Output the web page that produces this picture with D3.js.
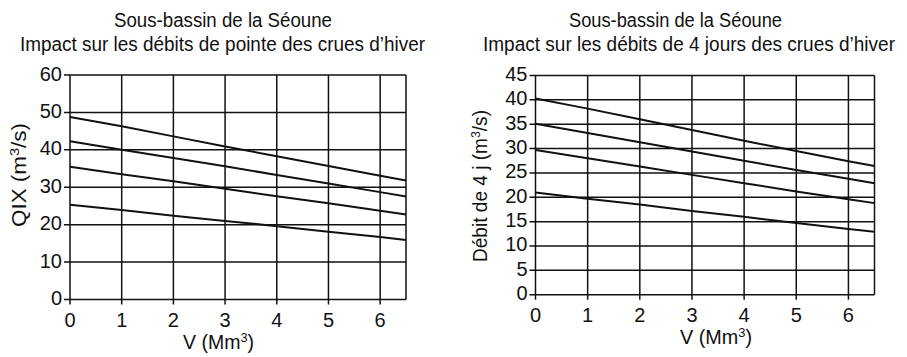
<!DOCTYPE html>
<html>
<head>
<meta charset="utf-8">
<script src="https://cdn.jsdelivr.net/npm/d3@7"></script>
<style>
  html, body { margin: 0; padding: 0; background: #fff; }
  svg { display: block; }
  text { font-family: "Liberation Sans", Arial, sans-serif; fill: #111; }
</style>
</head>
<body>
<svg id="chart" width="907" height="357"></svg>
<script>
// Storage volume V (Mm³) at which each curve is read
const volumes = [0, 1, 2, 3, 4, 5, 6, 6.5];

// Peak winter flood discharge QIX (m³/s), one curve per flood
const peakA = [48.8, 46.3, 43.6, 40.9, 38.3, 35.7, 33.1, 31.8];
const peakB = [42.3, 40.0, 37.8, 35.6, 33.3, 31.0, 28.7, 27.5];
const peakC = [35.5, 33.5, 31.6, 29.6, 27.6, 25.7, 23.7, 22.7];
const peakD = [25.3, 23.9, 22.4, 21.0, 19.6, 18.1, 16.7, 15.9];

// 4-day winter flood discharge (m³/s)
const dayA = [40.3, 38.2, 36.0, 33.8, 31.6, 29.5, 27.4, 26.4];
const dayB = [35.1, 33.2, 31.3, 29.4, 27.5, 25.6, 23.8, 22.9];
const dayC = [29.7, 28.0, 26.3, 24.6, 22.9, 21.2, 19.6, 18.8];
const dayD = [21.0, 19.7, 18.5, 17.2, 16.0, 14.7, 13.5, 12.9];

const xTicks = [0, 1, 2, 3, 4, 5, 6];
const peakTicks = [0, 10, 20, 30, 40, 50, 60];
const dayTicks = [0, 5, 10, 15, 20, 25, 30, 35, 40, 45];

const svg = d3.select("#chart");

function panel(opts) {
  const g = svg.append("g");
  const x = d3.scaleLinear().domain([0, 6.5]).range([opts.left, opts.right]);
  const y = d3.scaleLinear().domain([0, opts.yMax]).range([opts.bottom, opts.top]);

  // titles (condensed face emulated by fitting each line to its width)
  g.append("text").attr("x", opts.title1Box[0]).attr("y", 27)
    .attr("font-size", 19.5)
    .attr("textLength", opts.title1Box[1]).attr("lengthAdjust", "spacingAndGlyphs")
    .text(opts.title1);
  g.append("text").attr("x", opts.title2Box[0]).attr("y", 50.5)
    .attr("font-size", 19.5)
    .attr("textLength", opts.title2Box[1]).attr("lengthAdjust", "spacingAndGlyphs")
    .text(opts.title2);

  // horizontal grid lines with left ticks
  g.append("g").selectAll("line").data(opts.yTicks).join("line")
    .attr("x1", opts.left - 6).attr("x2", opts.right)
    .attr("y1", d => y(d)).attr("y2", d => y(d))
    .attr("stroke", "#111").attr("stroke-width", 1.5);

  // vertical grid lines with bottom ticks
  g.append("g").selectAll("line").data(xTicks).join("line")
    .attr("x1", d => x(d)).attr("x2", d => x(d))
    .attr("y1", y(opts.yMax)).attr("y2", opts.bottom + 5)
    .attr("stroke", "#111").attr("stroke-width", 1.5);

  // right border
  g.append("line").attr("x1", x(6.5)).attr("x2", x(6.5))
    .attr("y1", y(opts.yMax)).attr("y2", y(0))
    .attr("stroke", "#111").attr("stroke-width", 1.5);

  // tick labels
  g.append("g").selectAll("text").data(opts.yTicks).join("text")
    .attr("x", opts.left - 8).attr("y", d => y(d) + 5.5)
    .attr("text-anchor", "end").attr("font-size", 20).text(d => d);
  g.append("g").selectAll("text").data(xTicks).join("text")
    .attr("x", d => x(d)).attr("y", opts.bottom + 27)
    .attr("text-anchor", "middle").attr("font-size", 20).text(d => d);

  // axis titles
  const xl = g.append("text").attr("x", opts.xLabelBox[0]).attr("y", opts.bottom + 49.5)
    .attr("font-size", 20)
    .attr("textLength", opts.xLabelBox[1]).attr("lengthAdjust", "spacingAndGlyphs");
  xl.append("tspan").text("V (Mm");
  xl.append("tspan").attr("dy", -7).attr("font-size", 13).text("3");
  xl.append("tspan").attr("dy", 7).text(")");

  const yl = g.append("text")
    .attr("transform", `translate(${opts.yLabelX},${opts.yLabelBox[0]}) rotate(-90)`)
    .attr("font-size", 20)
    .attr("textLength", opts.yLabelBox[1]).attr("lengthAdjust", "spacingAndGlyphs");
  yl.append("tspan").text(opts.yLabel);
  yl.append("tspan").attr("dy", -7).attr("font-size", 13).text("3");
  yl.append("tspan").attr("dy", 7).text("/s)");

  // discharge curves
  const line = d3.line().x((d, i) => x(volumes[i])).y(d => y(d));
  g.append("g").selectAll("path").data(opts.series).join("path")
    .attr("d", line).attr("fill", "none")
    .attr("stroke", "#111").attr("stroke-width", 2);
}

panel({
  left: 70, right: 406, top: 75, bottom: 299.5, yMax: 60,
  yTicks: peakTicks,
  title1: "Sous-bassin de la Séoune", title1Box: [114, 218],
  title2: "Impact sur les débits de pointe des crues d’hiver", title2Box: [20, 405],
  xLabelBox: [183, 71],
  yLabel: "QIX  (m", yLabelX: 25.5, yLabelBox: [227, 104],
  series: [peakA, peakB, peakC, peakD]
});

panel({
  left: 535.5, right: 874.5, top: 75.5, bottom: 294.7, yMax: 45,
  yTicks: dayTicks,
  title1: "Sous-bassin de la Séoune", title1Box: [569, 213],
  title2: "Impact sur les débits de 4 jours des crues d’hiver", title2Box: [483, 412],
  xLabelBox: [680, 72],
  yLabel: "Débit de 4 j (m", yLabelX: 487, yLabelBox: [262, 152],
  series: [dayA, dayB, dayC, dayD]
});
</script>
</body>
</html>
